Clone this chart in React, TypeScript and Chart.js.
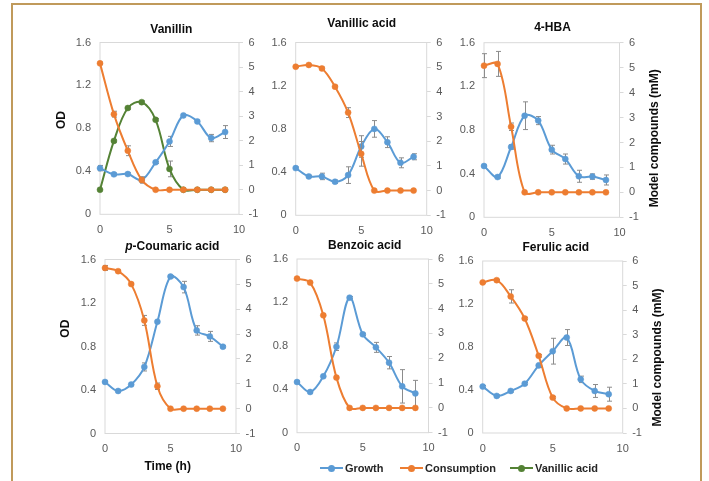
import React, { useEffect, useRef } from "react";
import { Chart, registerables } from "chart.js";

Chart.register(...registerables);

const FONT = "'Liberation Sans', Arial, sans-serif";
Chart.defaults.font.family = FONT;
Chart.defaults.color = "#595959";

// ---------- data ----------
const TIME = [0, 1, 2, 3, 4, 5, 6, 7, 8, 9];
const TIME_TICKS = [0, 5, 10];
const OD_TICKS = [0, 0.4, 0.8, 1.2, 1.6];
const MM_TICKS = [-1, 0, 1, 2, 3, 4, 5, 6];
const SERIES = ["Growth", "Consumption", "Vanillic acid"];
const COLORS = ["#5B9BD5", "#ED7D31", "#548235"];

const VANILLIN_GROWTH = [0.43, 0.372, 0.375, 0.32, 0.484, 0.679, 0.921, 0.865, 0.71, 0.766];
const VANILLIN_GROWTH_ERR = [0.025, 0.012, 0.012, 0.03, 0.01, 0.047, 0.01, 0.012, 0.034, 0.06];
const VANILLIN_CONSUMPTION = [5.15, 3.08, 1.59, 0.4, 0, 0, 0, 0, 0, 0];
const VANILLIN_CONSUMPTION_ERR = [0.05, 0.12, 0.2, 0.1, 0, 0, 0, 0, 0, 0];
const VANILLIN_VANILLIC = [0, 1.99, 3.33, 3.57, 2.85, 0.85, 0, 0, 0, 0];
const VANILLIN_VANILLIC_ERR = [0, 0.05, 0.05, 0.05, 0.05, 0.32, 0, 0, 0, 0];

const VANILLIC_GROWTH = [0.437, 0.36, 0.36, 0.311, 0.372, 0.637, 0.8, 0.677, 0.486, 0.542];
const VANILLIC_GROWTH_ERR = [0.01, 0.01, 0.03, 0.015, 0.077, 0.1, 0.077, 0.05, 0.046, 0.028];
const VANILLIC_CONSUMPTION = [5.02, 5.09, 4.95, 4.21, 3.16, 1.49, 0, 0, 0, 0];
const VANILLIC_CONSUMPTION_ERR = [0.03, 0.03, 0.05, 0.05, 0.2, 0.5, 0, 0, 0, 0];

const HBA_GROWTH = [0.47, 0.369, 0.644, 0.931, 0.886, 0.62, 0.534, 0.376, 0.373, 0.342];
const HBA_GROWTH_ERR = [0.01, 0.01, 0.02, 0.127, 0.037, 0.04, 0.046, 0.055, 0.025, 0.046];
const HBA_CONSUMPTION = [5.08, 5.15, 2.63, 0, 0, 0, 0, 0, 0, 0];
const HBA_CONSUMPTION_ERR = [0.48, 0.5, 0.15, 0, 0, 0, 0, 0, 0, 0];

const COUMARIC_GROWTH = [0.474, 0.391, 0.45, 0.612, 1.028, 1.443, 1.346, 0.948, 0.893, 0.798];
const COUMARIC_GROWTH_ERR = [0.01, 0.01, 0.01, 0.037, 0.01, 0.01, 0.053, 0.043, 0.046, 0.01];
const COUMARIC_CONSUMPTION = [5.66, 5.53, 5.01, 3.55, 0.9, 0, 0, 0, 0, 0];
const COUMARIC_CONSUMPTION_ERR = [0.1, 0.05, 0.05, 0.2, 0.13, 0, 0, 0, 0, 0];

const BENZOIC_GROWTH = [0.467, 0.375, 0.519, 0.792, 1.244, 0.906, 0.786, 0.645, 0.427, 0.362];
const BENZOIC_GROWTH_ERR = [0.01, 0.01, 0.01, 0.035, 0.01, 0.01, 0.046, 0.057, 0.154, 0.12];
const BENZOIC_CONSUMPTION = [5.21, 5.05, 3.73, 1.22, 0, 0, 0, 0, 0, 0];
const BENZOIC_CONSUMPTION_ERR = [0.03, 0.03, 0.05, 0.05, 0, 0, 0, 0, 0, 0];

const FERULIC_GROWTH = [0.432, 0.345, 0.391, 0.459, 0.629, 0.761, 0.888, 0.499, 0.391, 0.361];
const FERULIC_GROWTH_ERR = [0.01, 0.01, 0.01, 0.01, 0.02, 0.12, 0.074, 0.03, 0.06, 0.065];
const FERULIC_CONSUMPTION = [5.13, 5.22, 4.56, 3.66, 2.14, 0.44, 0, 0, 0, 0];
const FERULIC_CONSUMPTION_ERR = [0.03, 0.03, 0.27, 0.05, 0.05, 0.05, 0, 0, 0, 0];

type Seg = { text: string; italic?: boolean };

const PANELS = [
  { title: [{ text: "Vanillin" }] as Seg[], growth: VANILLIN_GROWTH, growthErr: VANILLIN_GROWTH_ERR, cons: VANILLIN_CONSUMPTION, consErr: VANILLIN_CONSUMPTION_ERR, extra: VANILLIN_VANILLIC, extraErr: VANILLIN_VANILLIC_ERR },
  { title: [{ text: "Vanillic acid" }] as Seg[], growth: VANILLIC_GROWTH, growthErr: VANILLIC_GROWTH_ERR, cons: VANILLIC_CONSUMPTION, consErr: VANILLIC_CONSUMPTION_ERR },
  { title: [{ text: "4-HBA" }] as Seg[], growth: HBA_GROWTH, growthErr: HBA_GROWTH_ERR, cons: HBA_CONSUMPTION, consErr: HBA_CONSUMPTION_ERR },
  { title: [{ text: "p", italic: true }, { text: "-Coumaric acid" }] as Seg[], growth: COUMARIC_GROWTH, growthErr: COUMARIC_GROWTH_ERR, cons: COUMARIC_CONSUMPTION, consErr: COUMARIC_CONSUMPTION_ERR },
  { title: [{ text: "Benzoic acid" }] as Seg[], growth: BENZOIC_GROWTH, growthErr: BENZOIC_GROWTH_ERR, cons: BENZOIC_CONSUMPTION, consErr: BENZOIC_CONSUMPTION_ERR },
  { title: [{ text: "Ferulic acid" }] as Seg[], growth: FERULIC_GROWTH, growthErr: FERULIC_GROWTH_ERR, cons: FERULIC_CONSUMPTION, consErr: FERULIC_CONSUMPTION_ERR },
];

// ---------- layout (page px) ----------
type Frame = {
  L: number; T: number; R: number; B: number;
  titleAt: [number, number];
  odAt?: [number, number];
  mmAt?: [number, number];
  timeAt?: [number, number];
};
const FRAMES: Frame[] = [
  { L: 100, T: 42.5, R: 239, B: 214.3, titleAt: [171.3, 29.7], odAt: [61.5, 120] },
  { L: 295.7, T: 42.5, R: 426.7, B: 215.3, titleAt: [361.7, 23.3] },
  { L: 484, T: 42.7, R: 619.5, B: 217.3, titleAt: [552.5, 27.5], mmAt: [655, 138.3] },
  { L: 105, T: 259.5, R: 236, B: 433.5, titleAt: [172.3, 247], odAt: [65.5, 328.7], timeAt: [167.7, 466.7] },
  { L: 297, T: 259, R: 428.5, B: 432.7, titleAt: [364.7, 245.8] },
  { L: 482.7, T: 261, R: 622.7, B: 433, titleAt: [555.8, 247.5], mmAt: [657.3, 357.5] },
];

const toPts = (vals: number[]) => TIME.map((t, i) => ({ x: t, y: vals[i] }));

function Panel({ panel, frame }: { panel: (typeof PANELS)[number]; frame: Frame }) {
  const ref = useRef<HTMLCanvasElement | null>(null);
  const cl = Math.floor(frame.L - 52);
  const ct = Math.floor(frame.T - 40);
  const cr = Math.ceil(frame.R + 52);
  const cb = Math.ceil(frame.B + (frame.timeAt ? 45 : 25));
  const cw = cr - cl;
  const ch = cb - ct;

  useEffect(() => {
    if (!ref.current) return;
    const leftW = frame.L - cl;
    const rightW = cr - frame.R;
    const topH = frame.T - ct;
    const bottomH = cb - frame.B;

    const deco = {
      id: "deco",
      beforeDatasetsDraw(chart: any) {
        const { ctx, chartArea: a } = chart;
        ctx.save();
        ctx.strokeStyle = "#D9D9D9";
        ctx.lineWidth = 1;
        ctx.strokeRect(a.left, a.top, a.right - a.left, a.bottom - a.top);
        ctx.restore();
      },
      beforeDatasetDraw(chart: any, args: any) {
        const ds = chart.data.datasets[args.index];
        const errs: number[] | undefined = ds.errors;
        if (!errs) return;
        const ys = chart.scales[ds.yAxisID];
        const ctx = chart.ctx;
        ctx.save();
        ctx.strokeStyle = "#8C8C8C";
        ctx.lineWidth = 1;
        args.meta.data.forEach((pt: any, i: number) => {
          const e = errs[i];
          if (!e) return;
          const v = ds.data[i].y;
          const y1 = ys.getPixelForValue(v + e);
          const y2 = ys.getPixelForValue(v - e);
          const x = Math.round(pt.x) + 0.5;
          ctx.beginPath();
          ctx.moveTo(x, y1);
          ctx.lineTo(x, y2);
          ctx.moveTo(x - 2.5, y1);
          ctx.lineTo(x + 2.5, y1);
          ctx.moveTo(x - 2.5, y2);
          ctx.lineTo(x + 2.5, y2);
          ctx.stroke();
        });
        ctx.restore();
      },
      afterDraw(chart: any) {
        const ctx = chart.ctx as CanvasRenderingContext2D;
        ctx.save();
        ctx.fillStyle = "#0d0d0d";
        ctx.textBaseline = "middle";
        // title
        const segs = panel.title;
        const fontOf = (s: Seg) => `${s.italic ? "italic " : ""}bold 12px ${FONT}`;
        let total = 0;
        segs.forEach((s) => { ctx.font = fontOf(s); total += ctx.measureText(s.text).width; });
        let x = frame.titleAt[0] - cl - total / 2;
        ctx.textAlign = "left";
        segs.forEach((s) => {
          ctx.font = fontOf(s);
          ctx.fillText(s.text, x, frame.titleAt[1] - ct);
          x += ctx.measureText(s.text).width;
        });
        ctx.font = `bold 12px ${FONT}`;
        ctx.textAlign = "center";
        const rot = (txt: string, p: [number, number]) => {
          ctx.save();
          ctx.translate(p[0] - cl, p[1] - ct);
          ctx.rotate(-Math.PI / 2);
          ctx.fillText(txt, 0, 0);
          ctx.restore();
        };
        if (frame.odAt) rot("OD", frame.odAt);
        if (frame.mmAt) rot("Model compounds (mM)", frame.mmAt);
        if (frame.timeAt) ctx.fillText("Time (h)", frame.timeAt[0] - cl, frame.timeAt[1] - ct);
        ctx.restore();
      },
    };

    const lineDs = (label: string, vals: number[], errs: number[], color: string, axis: string) => ({
      label,
      data: toPts(vals),
      errors: errs,
      yAxisID: axis,
      borderColor: color,
      backgroundColor: color,
      borderWidth: 2,
      pointRadius: 3,
      pointBorderWidth: 0.5,
      pointBackgroundColor: color,
      pointBorderColor: color,
      tension: 0.35,
      clip: false,
    });

    const datasets: any[] = [
      lineDs(SERIES[1], panel.cons, panel.consErr, COLORS[1], "mm"),
      lineDs(SERIES[0], panel.growth, panel.growthErr, COLORS[0], "od"),
    ];
    if ((panel as any).extra) {
      datasets.push(lineDs(SERIES[2], (panel as any).extra, (panel as any).extraErr, COLORS[2], "mm"));
    }

    const tickFont = { size: 11 };
    const chart = new Chart(ref.current, {
      type: "line",
      data: { datasets },
      plugins: [deco],
      options: {
        responsive: false,
        animation: false,
        events: [],
        layout: { padding: { top: topH, left: 0, right: 0, bottom: 0 } },
        plugins: { legend: { display: false }, tooltip: { enabled: false }, title: { display: false } },
        scales: {
          x: {
            type: "linear",
            min: 0,
            max: 10,
            grid: { display: false, drawTicks: false },
            border: { display: false },
            ticks: { padding: 9, font: tickFont, color: "#595959", autoSkip: false, maxRotation: 0, callback: (v: any) => String(v) },
            afterBuildTicks: (s: any) => { s.ticks = TIME_TICKS.map((v) => ({ value: v })); },
            afterFit: (s: any) => { s.height = bottomH; },
          },
          od: {
            type: "linear",
            position: "left",
            min: 0,
            max: 1.6,
            grid: { display: false, drawTicks: false },
            border: { display: false },
            ticks: { padding: 9, font: tickFont, color: "#595959", autoSkip: false, callback: (v: any) => String(v) },
            afterBuildTicks: (s: any) => { s.ticks = OD_TICKS.map((v) => ({ value: v })); },
            afterFit: (s: any) => { s.width = leftW; },
          },
          mm: {
            type: "linear",
            position: "right",
            min: -1,
            max: 6,
            grid: { display: true, drawOnChartArea: false, drawTicks: true, tickLength: 4, color: "#D9D9D9" },
            border: { display: false },
            ticks: { padding: 5.5, font: tickFont, color: "#595959", autoSkip: false, callback: (v: any) => String(v) },
            afterBuildTicks: (s: any) => { s.ticks = MM_TICKS.map((v) => ({ value: v })); },
            afterFit: (s: any) => { s.width = rightW; },
          },
        },
      } as any,
    });
    return () => chart.destroy();
  }, []);

  return (
    <canvas
      ref={ref}
      width={cw}
      height={ch}
      style={{ position: "absolute", left: cl, top: ct, width: cw, height: ch }}
    />
  );
}

const LEGEND_X = [320, 400, 510];

export default function App() {
  return (
    <div style={{ position: "absolute", left: 0, top: 0, width: 709, height: 481, overflow: "hidden", background: "#fff" }}>
      <div
        style={{
          position: "absolute",
          left: 11,
          top: 3,
          width: 691,
          height: 520,
          border: "2px solid #C09A5B",
          boxSizing: "border-box",
        }}
      />
      {PANELS.map((p, i) => (
        <Panel key={i} panel={p} frame={FRAMES[i]} />
      ))}
      {SERIES.map((name, i) => (
        <div key={name} style={{ position: "absolute", left: LEGEND_X[i], top: 461, height: 14 }}>
          <div style={{ position: "absolute", left: 0, top: 6, width: 23, height: 2, background: COLORS[i] }} />
          <div style={{ position: "absolute", left: 8, top: 3.5, width: 7, height: 7, borderRadius: "50%", background: COLORS[i] }} />
          <span
            style={{
              position: "absolute",
              left: 25,
              top: 0,
              whiteSpace: "nowrap",
              font: `bold 11px ${FONT}`,
              lineHeight: "14px",
              color: "#262626",
            }}
          >
            {name}
          </span>
        </div>
      ))}
    </div>
  );
}
